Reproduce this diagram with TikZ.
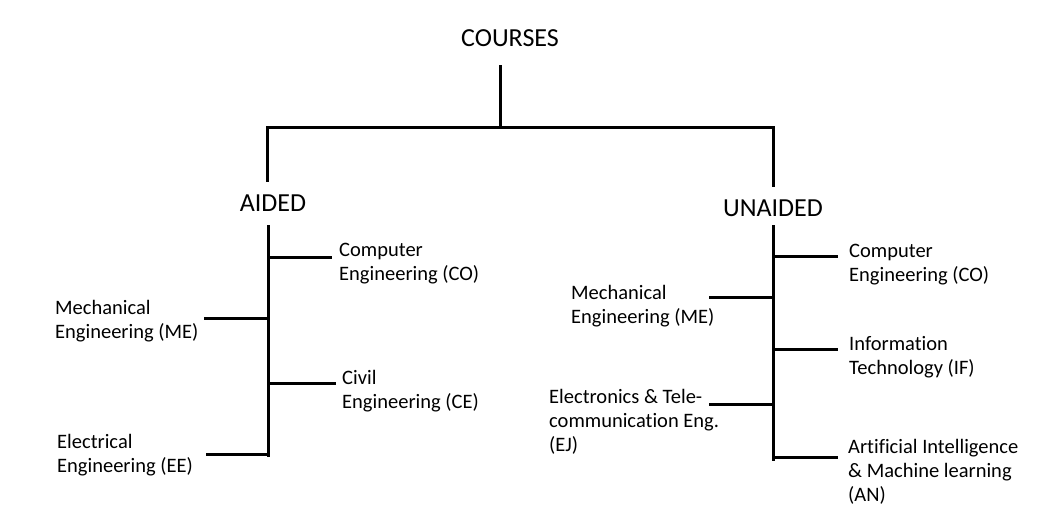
\documentclass[tikz,border=0pt]{standalone}
\usepackage{fontspec}
\setmainfont[Ligatures={NoCommon}]{Carlito}
\begin{document}
\begin{tikzpicture}[x=1pt,y=-1pt,
  lbl/.style={font=\fontsize{20.5}{24}\selectfont, align=left, inner sep=0pt, anchor=west},
  head/.style={font=\fontsize{26}{30}\selectfont, inner sep=0pt},
  wire/.style={line width=3pt, line cap=rect}]
\useasboundingbox[fill=white] (0,0) rectangle (1055,528);
% headings
\node[head] (courses) at (510,38) {COURSES};
\node[head] (aided) at (273,203) {AIDED};
\node[head] (unaided) at (773,208) {UNAIDED};
% top tree
\coordinate (top) at (500,66);
\coordinate (mid) at (500,127);
\coordinate (hl) at (267,127);
\coordinate (hr) at (773,127);
\coordinate (al) at (267,180);
\coordinate (ur) at (773,185);
\draw[wire] (top) -- (mid);
\draw[wire] (hl) -- (hr);
\draw[wire] (hl) -- (al);
\draw[wire] (hr) -- (ur);
% aided branch
\coordinate (a0) at (268,226);
\coordinate (a1) at (268,455);
\draw[wire] (a0) -- (a1);
\node[lbl] (aco) at (339,264) {Computer\\Engineering (CO)};
\node[lbl] (ame) at (55,321) {Mechanical\\Engineering (ME)};
\node[lbl] (ace) at (342,391) {Civil\\Engineering (CE)};
\node[lbl] (aee) at (57,455) {Electrical\\Engineering (EE)};
\coordinate (jaco) at (268,257); \coordinate (eaco) at (330,257);
\coordinate (jame) at (268,318); \coordinate (eame) at (205,318);
\coordinate (jace) at (268,383); \coordinate (eace) at (334,383);
\coordinate (jaee) at (268,454); \coordinate (eaee) at (207,454);
\draw[wire] (jaco) -- (eaco);
\draw[wire] (jame) -- (eame);
\draw[wire] (jace) -- (eace);
\draw[wire] (jaee) -- (eaee);
% unaided branch
\coordinate (u0) at (773,226);
\coordinate (u1) at (773,459);
\draw[wire] (u0) -- (u1);
\node[lbl] (uco) at (849,265) {Computer\\Engineering (CO)};
\node[lbl] (ume) at (571,306) {Mechanical\\Engineering (ME)};
\node[lbl] (uif) at (849,357) {Information\\Technology (IF)};
\node[lbl] (uej) at (549,422) {Electronics \& Tele-\\communication Eng.\\(EJ)};
\node[lbl] (uan) at (848,472) {Artificial Intelligence\\\& Machine learning\\(AN)};
\coordinate (juco) at (773,256); \coordinate (euco) at (836,256);
\coordinate (jume) at (773,297); \coordinate (eume) at (710,297);
\coordinate (juif) at (773,349); \coordinate (euif) at (836,349);
\coordinate (juej) at (773,404); \coordinate (euej) at (710,404);
\coordinate (juan) at (773,457); \coordinate (euan) at (836,457);
\draw[wire] (juco) -- (euco);
\draw[wire] (jume) -- (eume);
\draw[wire] (juif) -- (euif);
\draw[wire] (juej) -- (euej);
\draw[wire] (juan) -- (euan);
\end{tikzpicture}
\end{document}
